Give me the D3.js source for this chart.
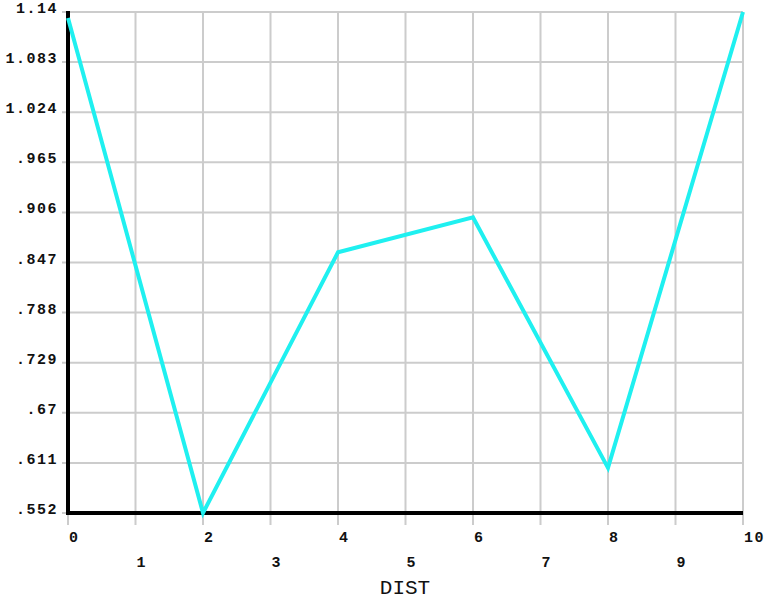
<!DOCTYPE html>
<html>
<head>
<meta charset="utf-8">
<script src="https://cdn.jsdelivr.net/npm/d3@7"></script>
<style>
  body { margin: 0; background: #fff; }
  svg { display: block; }
  .lbl { font-family: "Liberation Mono", "DejaVu Sans Mono", monospace; font-size: 15px; font-weight: bold; fill: #111; letter-spacing: 1.5px; }
</style>
</head>
<body>
<div id="chart"></div>
<script>
// data
const distValues = [0, 2, 4, 6, 8, 10];
const curveValues = [1.133, 0.552, 0.858, 0.899, 0.605, 1.14];
const xTicks = [0, 1, 2, 3, 4, 5, 6, 7, 8, 9, 10];
const yTickLabels = ["1.14", "1.083", "1.024", ".965", ".906", ".847", ".788", ".729", ".67", ".611", ".552"];

const width = 764, height = 599;
const plotLeft = 68, plotRight = 743, plotTop = 12, plotBottom = 513;

const svg = d3.select("#chart")
    .append("svg")
    .attr("width", width)
    .attr("height", height);

const x = d3.scaleLinear().domain([0, 10]).range([plotLeft, plotRight]);
const y = d3.scaleLinear().domain([0.552, 1.14]).range([plotBottom, plotTop]);

// y tick values, evenly spaced between min and max
const yTicks = yTickLabels.map((t, i) => 1.14 - i * (1.14 - 0.552) / 10);

// gridlines
svg.append("g").selectAll("line")
    .data(xTicks)
    .enter()
    .append("line")
    .attr("x1", d => x(d))
    .attr("x2", d => x(d))
    .attr("y1", plotTop)
    .attr("y2", plotBottom + 12)
    .style("stroke", "#cccccc")
    .style("stroke-width", 2);

svg.append("g").selectAll("line")
    .data(yTicks)
    .enter()
    .append("line")
    .attr("x1", plotLeft - 6)
    .attr("x2", plotRight)
    .attr("y1", d => y(d))
    .attr("y2", d => y(d))
    .style("stroke", "#cccccc")
    .style("stroke-width", 2);

// axis lines
svg.append("line")
    .attr("x1", plotLeft).attr("x2", plotLeft)
    .attr("y1", plotTop - 1).attr("y2", plotBottom + 2)
    .style("stroke", "#000")
    .style("stroke-width", 4);

svg.append("line")
    .attr("x1", plotLeft - 2).attr("x2", plotRight)
    .attr("y1", plotBottom).attr("y2", plotBottom)
    .style("stroke", "#000")
    .style("stroke-width", 4);

// y labels
svg.append("g").selectAll("text")
    .data(yTicks)
    .enter()
    .append("text")
    .attr("class", "lbl")
    .attr("x", plotLeft - 10)
    .attr("y", d => y(d) + 1)
    .attr("text-anchor", "end")
    .text((d, i) => yTickLabels[i]);

// x labels, staggered
svg.append("g").selectAll("text")
    .data(xTicks)
    .enter()
    .append("text")
    .attr("class", "lbl")
    .attr("x", d => x(d) + 1)
    .attr("y", d => d % 2 === 0 ? 542 : 567)
    .text(d => d);

// axis title
svg.append("text")
    .attr("x", 405)
    .attr("y", 594)
    .attr("text-anchor", "middle")
    .style("font-family", "'Liberation Mono', monospace")
    .style("font-size", "21px")
    .style("fill", "#111")
    .text("DIST");

// the curve
const line = d3.line()
    .x((d, i) => x(distValues[i]))
    .y(d => y(d));

svg.append("path")
    .datum(curveValues)
    .attr("d", line)
    .style("fill", "none")
    .style("stroke", "#1ff0f0")
    .style("stroke-width", 4)
    .style("stroke-linejoin", "miter");
</script>
</body>
</html>
